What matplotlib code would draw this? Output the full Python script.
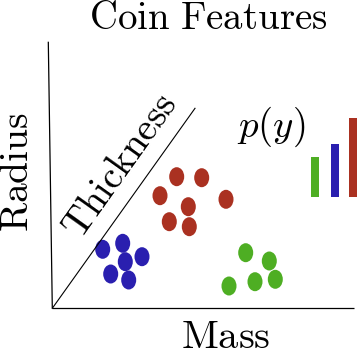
import matplotlib
matplotlib.use("Agg")
import matplotlib.pyplot as plt
from matplotlib.patches import Ellipse

plt.rcParams['mathtext.fontset'] = 'cm'

# Data (pixel-space feature coordinates: mass -> x, radius -> y)
red_mass = [176.7, 201.7, 160.0, 226.0, 188.3, 169.3, 189.3]
red_radius = [176.7, 177.7, 195.7, 199.3, 206.7, 221.7, 226.7]
blue_mass = [102.7, 122.7, 142.0, 125.3, 110.7, 128.7]
blue_radius = [249.3, 243.3, 256.7, 261.7, 274.0, 280.0]
green_mass = [245.7, 269.3, 275.3, 255.0, 229.0]
green_radius = [252.7, 261.0, 279.3, 281.7, 286.0]

classes = ['green', 'blue', 'red']
p_y = [0.235, 0.307, 0.458]

RED = '#AA3121'
BLUE = '#2A1FAF'
GREEN = '#4EAE23'

W, H = 357, 354
fig = plt.figure(figsize=(W / 100, H / 100), dpi=100)
ax = fig.add_axes([0, 0, 1, 1])
ax.set_xlim(0, W)
ax.set_ylim(H, 0)
ax.axis('off')

# axis lines
ax.plot([48.3, 52.3], [41.7, 308.3], color='black', lw=0.9, solid_capstyle='butt')
ax.plot([52.3, 353.5], [308.3, 308.3], color='black', lw=0.9, solid_capstyle='butt')
ax.plot([52.3, 195.0], [308.3, 108.3], color='black', lw=0.8)

for xs, ys, c in [(red_mass, red_radius, RED), (blue_mass, blue_radius, BLUE),
                  (green_mass, green_radius, GREEN)]:
    for x, y in zip(xs, ys):
        ax.add_patch(Ellipse((x, y), 15, 19, facecolor=c, edgecolor='none'))

ax.text(208, 29.3, r'$\mathrm{Coin\ Features}$', fontsize=28, ha='center', va='baseline')
ax.text(28, 172, r'$\mathrm{Radius}$', fontsize=28.5, ha='center', va='baseline',
        rotation=90, rotation_mode='anchor')
ax.text(225.5, 348.3, r'$\mathrm{Mass}$', fontsize=29, ha='center', va='baseline')
ax.text(129, 172, r'$\mathrm{Thickness}$', fontsize=28, ha='center', va='baseline',
        rotation=54.5, rotation_mode='anchor')
ax.text(271, 127, r'$p(y)$', fontsize=28, ha='center', va='center')

# p(y) bars
bar_bottom = 197.3
scale = 172.6
bx = fig.add_axes([300 / W, (H - bar_bottom) / H, 57 / W, scale / H])
bx.set_xlim(0, 57)
bx.set_ylim(0, 1)
bx.axis('off')
bx.bar([15, 35, 53], p_y, width=8.4, color=[GREEN, BLUE, RED])

fig.savefig('out.png', dpi=100)
